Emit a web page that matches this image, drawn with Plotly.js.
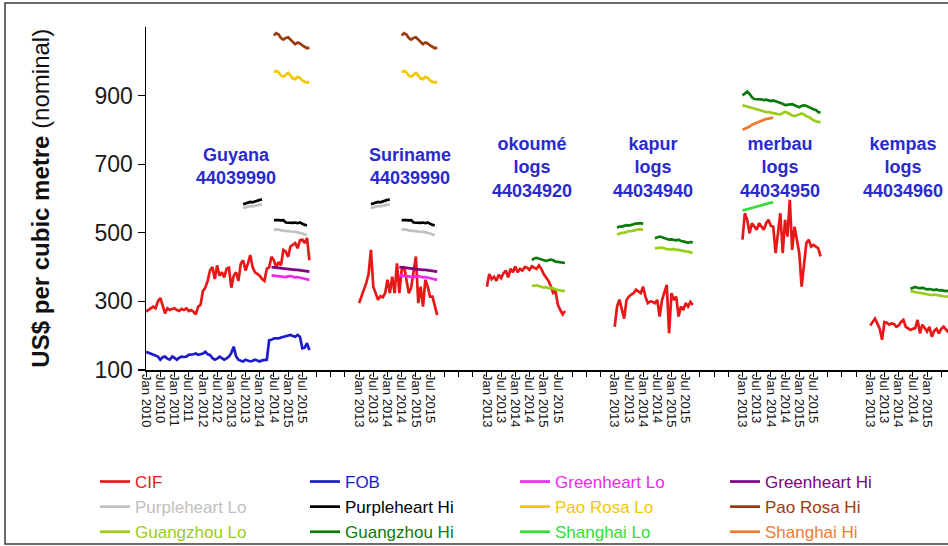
<!DOCTYPE html>
<html><head><meta charset="utf-8">
<script src="https://cdn.plot.ly/plotly-3.0.1.min.js"></script>
<style>html,body{margin:0;padding:0;background:#fff}#chart{width:948px;height:546px}</style>
</head><body><div id="chart"></div>
<script>
// ---------- tick labels ----------
const guyanaTickLabels = ["Jan 2010","Jul 2010","Jan 2011","Jul 2011","Jan 2012","Jul 2012","Jan 2013","Jul 2013","Jan 2014","Jul 2014","Jan 2015","Jul 2015"];
const logTickLabels = ["Jan 2013","Jul 2013","Jan 2014","Jul 2014","Jan 2015","Jul 2015"];

// ---------- series names / panel names ----------
const seriesNames = ["CIF","FOB","Greenheart Lo","Greenheart Hi","Purpleheart Lo","Purpleheart Hi","Pao Rosa Lo","Pao Rosa Hi","Guangzhou Lo","Guangzhou Hi","Shanghai Lo","Shanghai Hi"];
const panelLabels = ["Guyana<br>44039990","Suriname<br>44039990","okoumé<br>logs<br>44034920","kapur<br>logs<br>44034940","merbau<br>logs<br>44034950","kempas<br>logs<br>44034960"];

// ---------- Guyana, monthly from Jan 2010 ----------
const guyanaCIF = [270,275,280,285,280,300,310,285,265,280, 275,278,280,275,272,278,275,280,272,275, 270,262,285,290,330,340,360,390,400,365, 405,375,385,370,395,398,340,375,385,360, 410,420,390,410,435,400,385,380,375,365, 360,395,400,430,420,400,415,405,450,445, 430,460,465,470,455,478,480,470,485,420];
const guyanaFOB = [153,150,147,144,142,139,130,137,139,133, 130,139,135,130,136,139,138,139,144,144, 146,148,144,146,148,153,146,144,135,130, 133,139,134,130,134,139,150,168,140,130, 127,125,130,128,125,127,130,128,125,128, 130,130,187,188,192,192,192,195,197,197, 200,202,199,197,202,197,163,165,178,158];

// ---------- timber export prices (Guyana & Suriname), monthly from Jan 2013 ----------
const greenheartLo = [null,null,null,null,null,null,null,null,null,null,null,null,null,null,null,null,null, 376,375,374,373,372,372,371,373,374,372,370,371,370,368,366,364,363];
const greenheartHi = [null,null,null,null,null,null,null,null,null,null,null,null,null,null,null,null,null, 400,399,398,397,396,395,394,393,393,393,392,392,391,390,389,388,387];
const purpleheartLo = [null,null,null,null,null, 572,574,576,578,577,579,580,582,582, null,null,null,null, 509,510,509,507,506,504,505,504,503,503,502,501,498,495,493, null];
const purpleheartHi = [null,null,null,null,null, 583,586,588,590,589,592,594,596,597, null,null,null,null, 537,538,537,536,537,530,529,528,529,530,528,530,526,523,522, null];
const paoRosaLo = [null,null,null,null,null,null,null,null,null,null,null,null,null,null,null,null,null,null, 968,972,968,958,955,962,966,958,950,948,955,952,944,940,938,940];
const paoRosaHi = [null,null,null,null,null,null,null,null,null,null,null,null,null,null,null,null,null,null, 1075,1082,1078,1068,1063,1068,1070,1063,1055,1050,1055,1052,1046,1042,1038,1040];

// ---------- Suriname ----------
const surinameCIF = [295,315,330,353,380,450,343,324,305,315, 312,324,363,324,372,324,411,324,392,402, 363,324,340,382,431,295,343,285,363,343, 314,314,285,260];

// ---------- okoumé logs ----------
const okoumeCIF = [343,380,365,372,360,378,368,382,390,370, 395,385,402,385,395,390,400,398,392,402, 398,395,405,395,380,370,360,345,325,330, 290,275,262,272];
const okoumeGzLo = [null,null,null,null,null,null,null,null,null,null,null,null,null,null,null,null,null,null,null, 345,346,347,345,343,340,342,338,340,337,335,333,332,330,330];
const okoumeGzHi = [null,null,null,null,null,null,null,null,null,null,null,null,null,null,null,null,null,null,null, 420,425,427,425,424,420,418,420,422,420,416,415,414,412,412];

// ---------- kapur logs ----------
const kapurCIF = [226,285,305,275,250,304,314,320,324,334, 328,324,343,314,295,300,299,295,304,256, 304,324,348,207,324,304,314,256,285,275, 295,285,299,290];
const kapurGzLo = [null, 495,498,500,500,503,505,505,507,508,510,510,508, null,null,null,null, 455,456,458,457,455,452,452,451,453,450,450,448,446,446,445,443,441];
const kapurGzHi = [null, 515,518,518,520,522,521,524,525,527,528,528,526, null,null,null,null, 484,486,489,487,485,482,480,481,479,478,480,476,475,472,471,473,472];

// ---------- merbau logs ----------
const merbauCIF = [480,557,538,499,528,518,509,528,518,509, 528,538,520,518,441,500,557,441,538,489, 596,450,518,480,441,343,402,470,480,460, 465,460,455,431];
const merbauGzLo = [872,870,866,864,862,860,858,856,855,854, 852,852,850,849,848,846,845,850,853,850, 845,842,840,842,845,848,845,840,838,832, 828,825,823,822];
const merbauGzHi = [900,905,912,905,895,890,890,888,889,887, 888,886,884,886,884,880,878,876,872,873, 876,875,872,868,866,870,872,870,866,862, 860,858,852,850];
const merbauShLo = [565,567,568,570,572,575,578,580,582,583,585,587,588,588];
const merbauShHi = [800,803,806,810,815,818,820,825,828,830,832,833,835,836];

// ---------- kempas logs ----------
const kempasCIF = [230,240,250,236,220,188,240,238,232,236, 234,226,230,240,246,226,222,217,220,222, 246,207,232,220,212,226,197,214,220,207, 220,226,217,210];
const kempasGzLo = [null,null,null,null,null,null,null,null,null,null,null,null,null,null,null,null,null, 330,328,328,326,325,324,322,320,320,318,320,318,316,316,315,314,314];
const kempasGzHi = [null,null,null,null,null,null,null,null,null,null,null,null,null,null,null,null,null, 337,340,342,340,338,340,337,335,336,334,333,335,332,333,331,330,331];

// ---------- styling / layout constants ----------
const seriesColors = ["#e81818","#1c1cc8","#f028f0","#800080","#c0c0c0","#000000","#f2c800","#9a3a10","#9acd18","#0a7a0a","#33dd33","#f27a30"];
const panelOffsets = [0, 90, 144, 198, 252, 306];   // month offset of each panel on the shared axis
const timberShift = 36;                             // Jan 2013 inside the Guyana panel

// panel -> [seriesIndex, values, monthShift]
const panelSeries = [
  [[0,guyanaCIF,0],[1,guyanaFOB,0],[2,greenheartLo,timberShift],[3,greenheartHi,timberShift],[4,purpleheartLo,timberShift],[5,purpleheartHi,timberShift],[6,paoRosaLo,timberShift],[7,paoRosaHi,timberShift]],
  [[0,surinameCIF,0],[2,greenheartLo,0],[3,greenheartHi,0],[4,purpleheartLo,0],[5,purpleheartHi,0],[6,paoRosaLo,0],[7,paoRosaHi,0]],
  [[0,okoumeCIF,0],[8,okoumeGzLo,0],[9,okoumeGzHi,0]],
  [[0,kapurCIF,0],[8,kapurGzLo,0],[9,kapurGzHi,0]],
  [[0,merbauCIF,0],[8,merbauGzLo,0],[9,merbauGzHi,0],[10,merbauShLo,0],[11,merbauShHi,0]],
  [[0,kempasCIF,0],[8,kempasGzLo,0],[9,kempasGzHi,0]]
];

const traces = [];
seriesNames.forEach((nm, si) => {
  let first = true;
  panelSeries.forEach((list, pi) => {
    list.forEach(([idx, vals, shift]) => {
      if (idx !== si) return;
      traces.push({
        type: 'scatter', mode: 'lines',
        x: vals.map((v, i) => panelOffsets[pi] + shift + i),
        y: vals,
        line: {color: seriesColors[si], width: 2.7},
        name: '<span style="color:' + seriesColors[si] + '">' + nm + '</span>',
        showlegend: first,
        hoverinfo: 'skip'
      });
      first = false;
    });
  });
});

const tickvals = [], ticktext = [];
guyanaTickLabels.forEach((t, k) => { tickvals.push(panelOffsets[0] + 6 * k); ticktext.push(t); });
for (let p = 1; p < panelOffsets.length; p++) {
  logTickLabels.forEach((t, k) => { tickvals.push(panelOffsets[p] + 6 * k); ticktext.push(t); });
}

const labelPos = [[38, 694], [111.3, 694], [163, 691], [214.2, 691], [267.9, 691], [319.8, 691]];
const annotations = panelLabels.map((t, i) => ({
  xref: 'x', yref: 'y', x: labelPos[i][0], y: labelPos[i][1],
  text: '<b>' + t + '</b>', showarrow: false, align: 'center',
  xanchor: 'center', yanchor: 'middle',
  font: {family: 'Liberation Sans, Arial, sans-serif', size: 18, color: '#2a2ad0'}
}));
annotations.push({
  xref: 'paper', yref: 'paper', x: -0.132, y: 0.5, textangle: -90,
  text: '<b>US$ per cubic metre</b> (nominal)', showarrow: false,
  xanchor: 'center', yanchor: 'middle',
  font: {family: 'Liberation Sans, Arial, sans-serif', size: 24, color: '#111'}
});

const layout = {
  width: 948, height: 546,
  margin: {l: 146, r: 0, t: 27, b: 176, autoexpand: false},
  paper_bgcolor: '#fff', plot_bgcolor: '#fff',
  showlegend: true, hovermode: false,
  font: {family: 'Liberation Sans, Arial, sans-serif', color: '#111'},
  xaxis: {
    range: [-0.05, 338.85], showgrid: false, zeroline: false,
    showline: true, linecolor: '#000', linewidth: 1.5,
    tickmode: 'array', tickvals: tickvals, ticktext: ticktext, ticks: '',
    tickangle: 90, tickfont: {size: 13, color: '#111'},
    minor: {tickmode: 'linear', tick0: 0, dtick: 6, ticks: 'outside', ticklen: 5, tickwidth: 1, tickcolor: '#000', showgrid: false},
    fixedrange: true
  },
  yaxis: {
    range: [100, 1100], showgrid: false, zeroline: false,
    showline: true, linecolor: '#000', linewidth: 1.5,
    tickmode: 'array', tickvals: [100, 300, 500, 700, 900],
    ticks: 'outside', ticklen: 7, tickwidth: 1.2, tickcolor: '#000',
    tickfont: {size: 23, color: '#1a1a1a'}, fixedrange: true
  },
  legend: {
    orientation: 'h', x: -0.0636, xanchor: 'left', y: -0.274, yanchor: 'top',
    entrywidth: 165, entrywidthmode: 'pixels', itemwidth: 30,
    font: {size: 17}, bgcolor: 'rgba(0,0,0,0)', traceorder: 'normal'
  },
  annotations: annotations,
  shapes: [{
    type: 'rect', xref: 'paper', yref: 'paper',
    x0: -0.1758, x1: 1.02, y0: -0.507, y1: 1.07,
    line: {color: '#3a3a3a', width: 1.5}, fillcolor: 'rgba(0,0,0,0)', layer: 'below'
  }]
};

Plotly.newPlot('chart', traces, layout, {displayModeBar: false, staticPlot: true});
</script>
</body></html>
